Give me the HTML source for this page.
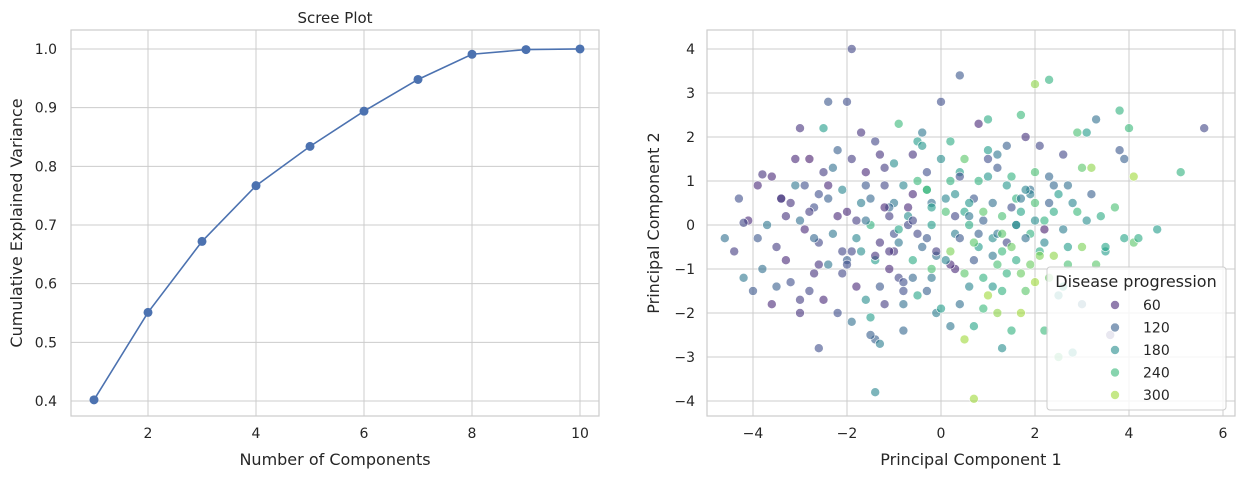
<!DOCTYPE html>
<html><head><meta charset="utf-8"><style>
html,body{margin:0;padding:0;background:#fff;}
svg{display:block;font-family:"DejaVu Sans","Liberation Sans",sans-serif;}
</style></head><body>
<svg id="fig" width="1243" height="479" viewBox="0 0 1243 479">
<g id="left"></g>
<g id="right"></g>
</svg>
<script>
const components=[1,2,3,4,5,6,7,8,9,10];
const cumVariance=[0.402,0.551,0.672,0.767,0.834,0.894,0.948,0.991,0.999,1.0];
const screeXTicks=[2,4,6,8,10];
const screeYTicks=[0.4,0.5,0.6,0.7,0.8,0.9,1.0];
const pcX=[-1.9,-3.1,-3.0,-2.8,-2.5,-3.2,-3.6,-3.8,-4.1,-4.2,-3.9,-3.5,-3.3,-3.0,-2.7,-2.9,-2.6,-2.3,-2.0,-1.8,-1.5,-1.2,-1.6,-1.9,-2.1,-2.2,-2.4,-2.0,-1.4,-0.6,-0.4,-0.5,0.0,0.4,0.8,1.0,1.2,1.4,1.8,2.1,2.0,2.3,1.7,1.0,0.5,0.2,0.3,0.7,1.1,1.4,1.7,2.0,2.2,2.5,2.8,3.0,3.2,3.3,3.1,3.8,4.0,4.1,3.7,3.9,4.1,4.2,4.6,5.1,5.6,3.4,3.0,2.7,2.4,2.3,2.0,1.8,1.6,1.3,1.1,0.8,0.9,0.6,0.4,0.7,0.7,1.2,1.5,1.7,2.2,2.5,2.8,3.0,1.3,-0.1,-0.3,-0.5,-0.8,-0.9,-1.1,-1.3,-1.4,-1.3,-1.5,-1.9,-1.4,-2.2,-2.5,-2.8,-3.0,-3.2,-3.5,-3.8,-4.2,-4.0,-4.6,-4.4,-3.6,-3.0,-2.4,-2.0,-1.7,-1.3,-1.0,-0.7,-0.4,-0.2,0.1,0.3,0.6,0.9,1.3,1.6,1.9,2.2,2.6,2.9,3.3,3.5,-1.0,-0.8,-0.6,-0.3,0.0,-1.2,-1.5,-1.8,-2.1,-2.7,-3.4,-3.7,-2.5,-2.6,-1.8,-1.2,-0.6,-0.2,0.2,0.5,1.0,1.4,1.9,2.4,3.1,2.6,2.9,-0.9,-1.7,-0.2,0.6,1.5,1.9,2.3,3.8,3.9,-4.3,-3.9,-2.2,-1.0,0.4,1.2,2.0,2.7,0.2,-0.8,-2.6,
-1.1,-0.9,-0.7,-1.4,-1.6,-0.5,-0.3,-0.1,0.1,0.3,0.5,0.8,1.0,1.2,1.5,1.7,1.9,2.1,2.4,-1.3,-1.0,-0.8,-0.5,-0.2,0.2,0.4,0.7,0.9,1.1,1.4,1.6,1.8,2.1,2.3,2.6,-2.4,-2.1,-1.7,-1.4,-1.1,-0.8,-0.4,-0.1,0.2,0.6,0.9,1.2,1.5,1.8,2.2,-2.9,-2.6,-2.3,-1.9,-1.6,-1.2,-0.9,-0.6,-0.3,0.1,0.4,0.7,1.0,1.3,1.7,-3.3,-2.8,-2.4,-2.0,-1.6,-1.1,-0.7,-0.3,0.0,0.3,0.8,1.1,1.6,2.0,2.5,3.2,3.5,-0.6,-1.5,-2.7,-3.4,-3.1,0.5,1.3,2.7,3.6,-0.2,0.9];
const pcY=[4.0,1.5,2.2,1.5,1.2,0.5,1.1,1.15,0.1,0.05,-0.3,-0.5,0.2,0.1,0.4,-0.1,-0.4,-0.2,0.3,0.1,0.6,0.9,1.2,1.5,0.8,1.7,2.8,2.8,1.9,1.6,2.1,1.9,2.8,3.4,2.3,2.4,1.6,1.8,2.0,1.8,3.2,3.3,2.5,1.5,1.5,1.0,0.7,0.6,0.5,0.9,0.3,0.5,0.1,0.7,0.5,1.3,1.3,2.4,2.1,2.6,2.2,1.1,0.4,-0.3,-0.4,-0.3,-0.1,1.2,2.2,0.2,-0.5,-0.9,-0.7,-1.2,-1.3,-1.5,-0.8,-0.6,-0.3,-0.5,-1.2,-1.4,-1.8,-2.3,-3.95,-2.0,-2.4,-2.0,-2.4,-3.0,-2.9,-1.8,-2.8,-2.0,-1.5,-1.6,-1.8,-1.2,-1.0,-1.4,-2.6,-2.7,-2.1,-2.2,-3.8,-2.0,-1.7,-1.5,-2.0,-1.3,-1.4,-1.0,-1.2,-1.5,-0.3,-0.6,-1.8,-1.7,-0.9,-0.8,-0.6,-0.4,-0.2,0.0,-0.5,0.0,0.3,-0.2,0.0,0.1,0.2,0.0,-0.2,-0.4,-0.1,0.3,-0.9,-0.6,0.5,0.9,0.7,1.2,1.5,1.3,0.0,-0.3,-0.6,-0.3,0.6,0.0,2.2,0.7,-1.4,-1.8,-0.8,-1.0,-0.6,-1.1,-1.6,-1.1,-0.9,0.3,0.1,1.6,2.1,2.3,2.1,0.5,0.5,1.1,0.8,1.1,1.7,1.5,0.6,0.9,0.2,-0.6,-0.3,-0.2,0.1,-0.5,-2.3,-2.4,-2.8,
0.2,-0.4,0.4,-0.8,0.9,-0.2,0.8,-0.7,0.6,-1.0,0.3,-0.2,1.1,-0.9,0.4,-1.1,0.7,-0.6,0.9,1.6,1.4,-1.3,1.0,-1.2,-0.9,1.2,-0.8,0.3,-1.4,-0.4,0.6,-0.3,-0.7,0.5,-1.4,0.9,-1.1,0.5,-0.7,0.4,-1.5,1.8,-0.6,1.9,0.2,-1.9,1.3,-0.5,0.8,-0.1,0.9,-0.9,1.3,-0.6,-1.7,0.4,-0.1,-1.2,0.8,-0.8,1.1,-0.4,1.7,-1.5,0.6,-0.8,0.3,0.6,-0.9,0.1,-0.6,0.2,-0.3,-1.9,0.2,1.0,-0.7,0.0,1.2,-1.6,0.7,-0.5,0.1,-2.5,-1.1,0.6,0.9,-2.6,-0.2,0.9,-2.5,0.4,2.6];
const progression=[90,60,70,50,80,70,60,70,60,90,110,80,70,140,100,60,90,150,60,80,130,90,60,80,170,120,110,100,90,70,150,200,100,110,60,220,150,120,70,90,290,230,240,100,260,230,180,110,140,190,210,250,230,200,170,260,290,140,200,230,240,300,250,210,260,220,200,230,90,220,280,250,290,270,300,260,220,240,180,200,230,170,140,210,300,290,230,300,240,250,200,150,180,160,120,210,140,90,60,110,120,160,200,140,170,100,60,90,70,100,120,140,150,110,140,80,60,80,150,120,180,70,100,90,130,200,250,160,220,120,250,190,230,170,160,240,260,200,150,170,60,100,180,80,230,170,90,130,110,150,200,100,60,80,220,250,280,260,300,230,270,220,180,90,250,240,70,140,190,230,140,130,110,120,100,60,60,70,110,150,180,200,150,130,100,
80,150,60,200,110,90,230,140,170,60,210,120,190,250,100,270,160,220,130,70,180,100,240,150,60,200,110,260,190,90,230,140,280,120,210,60,90,160,70,130,100,190,80,220,150,240,110,270,170,50,100,70,140,90,180,60,210,130,240,170,100,260,200,230,150,60,80,120,100,140,70,180,110,200,90,230,150,170,250,190,120,210,90,120,70,60,150,300,260,140,80,200];
const pcXTicks=[-4,-2,0,2,4,6];
const pcYTicks=[-4,-3,-2,-1,0,1,2,3,4];
const legendValues=[60,120,180,240,300];

const NS="http://www.w3.org/2000/svg";
function mk(parent,tag,attrs,text){const e=document.createElementNS(NS,tag);for(const k in attrs)e.setAttribute(k,attrs[k]);if(text!==undefined)e.textContent=text;parent.appendChild(e);return e;}
const VIR=[[68,1,84],[72,40,120],[62,74,137],[49,104,142],[38,130,142],[31,158,137],[53,183,121],[109,205,89],[180,222,44],[253,231,37]];
function viridis(t){if(!isFinite(t))t=0.5;t=Math.max(0,Math.min(1,t));const f=t*(VIR.length-1);const i=Math.min(Math.floor(f),VIR.length-2);const r=f-i;const a=VIR[i],b=VIR[i+1];return `rgb(${Math.round(a[0]+(b[0]-a[0])*r)},${Math.round(a[1]+(b[1]-a[1])*r)},${Math.round(a[2]+(b[2]-a[2])*r)})`;}
const vmin=25,vmax=346;

// ---- Left scree plot ----
const L=document.getElementById('left');
const lx0=71,lx1=599,ly0=30,ly1=416;
const sx=v=>94+(v-1)*54;
const sy=v=>401-(v-0.4)*586.7;
let e=mk(L,'rect',{x:lx0,y:ly0,width:lx1-lx0,height:ly1-ly0,fill:'#fff'});

screeXTicks.forEach(t=>{mk(L,'line',{x1:sx(t),x2:sx(t),y1:ly0,y2:ly1,stroke:'#cccccc','stroke-width':1});
 const tx=mk(L,'text',{x:sx(t),y:ly1+22,'text-anchor':'middle','font-size':14,fill:'#262626'},String(t));
 });
screeYTicks.forEach(t=>{mk(L,'line',{x1:lx0,x2:lx1,y1:sy(t),y2:sy(t),stroke:'#cccccc','stroke-width':1});
 const tx=mk(L,'text',{x:lx0-14,y:sy(t)+5,'text-anchor':'end','font-size':14,fill:'#262626'},t.toFixed(1));
 });
mk(L,'rect',{x:lx0,y:ly0,width:lx1-lx0,height:ly1-ly0,fill:'none',stroke:'#cccccc','stroke-width':1.2});
const line=mk(L,'polyline',{points:components.map((c,i)=>sx(c)+','+sy(cumVariance[i])).join(' '),fill:'none',stroke:'#4c72b0','stroke-width':1.6});

components.forEach((c,i)=>{const p=mk(L,'circle',{cx:sx(c),cy:sy(cumVariance[i]),r:4.5,fill:'#4c72b0'});
 });
e=mk(L,'text',{x:(lx0+lx1)/2,y:23,'text-anchor':'middle','font-size':15,fill:'#262626'},'Scree Plot');

e=mk(L,'text',{x:(lx0+lx1)/2,y:465,'text-anchor':'middle','font-size':16,fill:'#262626'},'Number of Components');

e=mk(L,'text',{x:22,y:223,'text-anchor':'middle','font-size':16,fill:'#262626',transform:'rotate(-90 22 223)'},'Cumulative Explained Variance');


// ---- Right scatter ----
const R=document.getElementById('right');
const rx0=707,rx1=1235,ry0=30,ry1=416;
const px=v=>941+v*47;
const py=v=>225-v*44;
e=mk(R,'rect',{x:rx0,y:ry0,width:rx1-rx0,height:ry1-ry0,fill:'#fff'});

pcXTicks.forEach(t=>{mk(R,'line',{x1:px(t),x2:px(t),y1:ry0,y2:ry1,stroke:'#cccccc','stroke-width':1});
 const tx=mk(R,'text',{x:px(t),y:ry1+22,'text-anchor':'middle','font-size':14,fill:'#262626'},t<0?'\u2212'+(-t):String(t));
 });
pcYTicks.forEach(t=>{mk(R,'line',{x1:rx0,x2:rx1,y1:py(t),y2:py(t),stroke:'#cccccc','stroke-width':1});
 const tx=mk(R,'text',{x:rx0-12,y:py(t)+5,'text-anchor':'end','font-size':14,fill:'#262626'},t<0?'\u2212'+(-t):String(t));
 });
mk(R,'rect',{x:rx0,y:ry0,width:rx1-rx0,height:ry1-ry0,fill:'none',stroke:'#cccccc','stroke-width':1.2});
const nPts=Math.min(pcX.length,pcY.length,progression.length);
for(let i=0;i<nPts;i++){const p=mk(R,'circle',{cx:px(pcX[i]),cy:py(pcY[i]),r:4.5,fill:viridis((progression[i]-vmin)/(vmax-vmin)),'fill-opacity':0.6,stroke:'#fff','stroke-width':0.6});
 }
e=mk(R,'text',{x:(rx0+rx1)/2,y:465,'text-anchor':'middle','font-size':16,fill:'#262626'},'Principal Component 1');

e=mk(R,'text',{x:659,y:223,'text-anchor':'middle','font-size':16,fill:'#262626',transform:'rotate(-90 659 223)'},'Principal Component 2');

// legend
const lg=mk(R,'g',{});

mk(lg,'rect',{x:1047,y:267,width:179,height:143,rx:3,fill:'#fff','fill-opacity':0.8,stroke:'#cccccc','stroke-width':1});
e=mk(lg,'text',{x:1136,y:287,'text-anchor':'middle','font-size':16,fill:'#262626'},'Disease progression');

legendValues.forEach((v,i)=>{const y=305+i*22.5;
 const g=mk(lg,'g',{});
 mk(g,'circle',{cx:1115,cy:y,r:4.5,fill:viridis((v-vmin)/(vmax-vmin)),'fill-opacity':0.6,stroke:'#fff','stroke-width':0.6});
 mk(g,'text',{x:1143,y:y+5,'font-size':14,fill:'#262626'},String(v));});
</script>
</body></html>
